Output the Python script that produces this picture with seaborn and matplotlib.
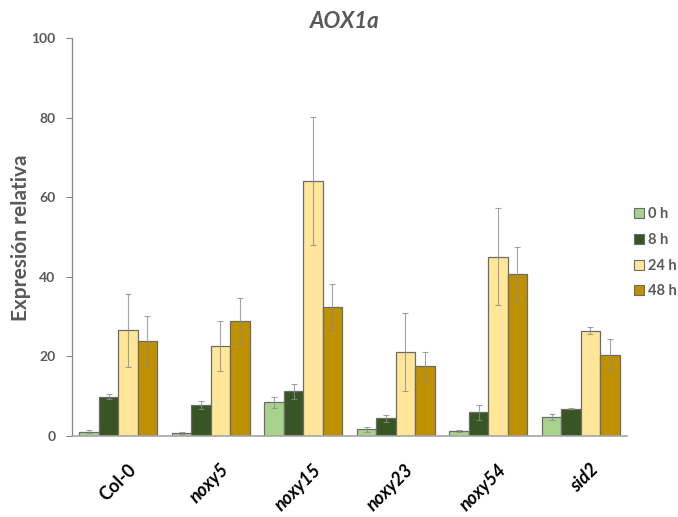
import numpy as np
import pandas as pd
import matplotlib
matplotlib.use("Agg")
import matplotlib.pyplot as plt
import matplotlib.transforms as mtransforms
import seaborn as sns
from matplotlib.patches import Patch

genotypes = ["Col-0", "noxy5", "noxy15", "noxy23", "noxy54", "sid2"]
times = ["0 h", "8 h", "24 h", "48 h"]
mean_0h = [1.1, 0.8, 8.5, 1.7, 1.2, 4.8]
mean_8h = [9.9, 7.9, 11.2, 4.4, 6.0, 6.9]
mean_24h = [26.6, 22.6, 64.1, 21.1, 45.1, 26.5]
mean_48h = [23.8, 28.9, 32.5, 17.6, 40.6, 20.4]
err_0h = [0.3, 0.3, 1.4, 0.6, 0.3, 0.7]
err_8h = [0.7, 1.0, 1.9, 1.0, 1.9, 0.2]
err_24h = [9.2, 6.3, 16.0, 9.7, 12.1, 0.8]
err_48h = [6.3, 5.7, 5.8, 3.5, 7.0, 4.0]
colors = ["#a9d18e", "#375623", "#ffe699", "#bf9000"]

means = [mean_0h, mean_8h, mean_24h, mean_48h]
errs = [err_0h, err_8h, err_24h, err_48h]
rows = []
for t, m, e in zip(times, means, errs):
    for g, v, s in zip(genotypes, m, e):
        rows.append({"genotype": g, "time": t, "value": v, "err": s})
df = pd.DataFrame(rows)

sns.set_style("white")
plt.rcParams["font.family"] = ["Lato", "DejaVu Sans"]
grey = "#595959"

fig = plt.figure(figsize=(6.78, 5.17), dpi=100)
ax = fig.add_axes([72 / 678, 1 - 436 / 517, 555 / 678, 398 / 517])

sns.barplot(data=df, x="genotype", y="value", hue="time", order=genotypes,
            hue_order=times, palette=colors, saturation=1, width=0.84,
            errorbar=None, edgecolor="#6b6b6b", linewidth=0.9, ax=ax,
            legend=False)

# error bars placed on the bar patches
for i, t in enumerate(times):
    cont = ax.containers[i]
    xs = [p.get_x() + p.get_width() / 2 for p in cont]
    ax.errorbar(xs, means[i], yerr=errs[i], fmt="none", ecolor="#8c8c8c",
                elinewidth=0.8, capsize=2.5, capthick=0.8, alpha=0.8, zorder=5)

ax.set_ylim(0, 100)
ax.set_xlim(-0.5, 5.5)
ax.set_yticks([0, 20, 40, 60, 80, 100])
ax.tick_params(axis="y", which="both", left=True, length=4, width=0.8,
               color="#868686", labelsize=10, labelcolor=grey, pad=8)
ax.tick_params(axis="x", bottom=False, length=0)
for lbl in ax.get_yticklabels():
    lbl.set_fontweight("bold")

for s in ["top", "right"]:
    ax.spines[s].set_visible(False)
ax.spines["left"].set_color("#868686")
ax.spines["bottom"].set_color("#a6a6a6")
ax.spines["left"].set_linewidth(0.9)
ax.spines["bottom"].set_linewidth(1.2)

ax.set_xlabel("")
ax.set_ylabel("Expresión relativa", fontsize=15, color=grey, fontweight="bold")
ax.yaxis.set_label_coords((31 - 72) / 555, (436 - 238) / 398)

ax.set_xticks(range(len(genotypes)))
ax.set_xticklabels(genotypes)
offset = mtransforms.ScaledTranslation(15 / 100, -26 / 100, fig.dpi_scale_trans)
for i, lbl in enumerate(ax.get_xticklabels()):
    lbl.set_rotation(45)
    lbl.set_rotation_mode("anchor")
    lbl.set_ha("right")
    lbl.set_va("center")
    lbl.set_fontsize(13)
    lbl.set_fontweight("bold")
    lbl.set_color("black")
    if i > 0:
        lbl.set_fontstyle("italic")
    lbl.set_transform(lbl.get_transform() + offset)

fig.text(345 / 678, 1 - 21 / 517, "AOX1a", fontsize=16, fontweight="bold",
         fontstyle="italic", color=grey, ha="center", va="center")

handles = [Patch(facecolor=c, edgecolor="#6b6b6b", linewidth=0.8) for c in colors]
leg = fig.legend(handles, times, loc="center left",
                 bbox_to_anchor=(624 / 678, 1 - 253 / 517), frameon=False,
                 handlelength=0.7, handleheight=0.7, handletextpad=0.25,
                 labelspacing=0.8, borderpad=0.2,
                 prop={"size": 10.5, "weight": "bold"})
for txt in leg.get_texts():
    txt.set_color(grey)

fig.savefig("out.png", dpi=100)
